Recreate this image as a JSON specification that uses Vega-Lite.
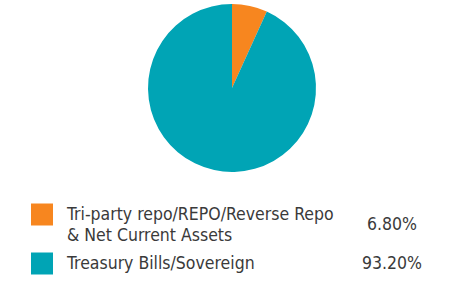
{
  "$schema": "https://vega.github.io/schema/vega-lite/v6.json",
  "padding": 0,
  "background": "white",
  "config": {"view": {"stroke": null}, "concat": {"spacing": 0}},
  "data": {"values": [
    {"order": 1, "label": "Tri-party repo/REPO/Reverse Repo\n& Net Current Assets", "value": 6.8, "pct": "6.80%"},
    {"order": 2, "label": "Treasury Bills/Sovereign", "value": 93.2, "pct": "93.20%"}
  ]},
  "vconcat": [
    {
      "width": 464,
      "height": 176,
      "mark": {"type": "arc", "outerRadius": 84},
      "encoding": {
        "theta": {"field": "value", "type": "quantitative", "stack": true},
        "order": {"field": "order", "type": "quantitative"},
        "color": {"field": "order", "type": "nominal", "scale": {"domain": [1, 2], "range": ["#F7861F", "#00A4B5"]}, "legend": null}
      }
    },
    {
      "width": 453,
      "height": 111,
      "resolve": {"scale": {"y": "independent"}},
      "layer": [
        {
          "mark": {"type": "square", "size": 484, "opacity": 1, "filled": true},
          "encoding": {
            "x": {"value": 42},
            "y": {"field": "order", "type": "ordinal", "scale": {"type": "point", "padding": 0, "range": [38.5, 87.5]}, "axis": null},
            "color": {"field": "order", "type": "nominal", "legend": null}
          }
        },
        {
          "mark": {"type": "text", "align": "left", "baseline": "alphabetic", "dy": 5, "lineBreak": "\n", "lineHeight": 21, "font": "Liberation Sans Narrow, DejaVu Sans Condensed, sans-serif", "fontSize": 17.5, "color": "#3a3a3a"},
          "encoding": {
            "x": {"value": 67},
            "y": {"field": "order", "type": "ordinal", "scale": {"type": "point", "padding": 0, "range": [38.5, 87.5]}, "axis": null},
            "text": {"field": "label"}
          }
        },
        {
          "mark": {"type": "text", "align": "center", "baseline": "alphabetic", "dy": 5, "font": "Liberation Sans Narrow, DejaVu Sans Condensed, sans-serif", "fontSize": 17.5, "color": "#3a3a3a"},
          "encoding": {
            "x": {"value": 392},
            "y": {"field": "order", "type": "ordinal", "scale": {"type": "point", "padding": 0, "range": [48.5, 87.5]}, "axis": null},
            "text": {"field": "pct"}
          }
        }
      ]
    }
  ]
}
